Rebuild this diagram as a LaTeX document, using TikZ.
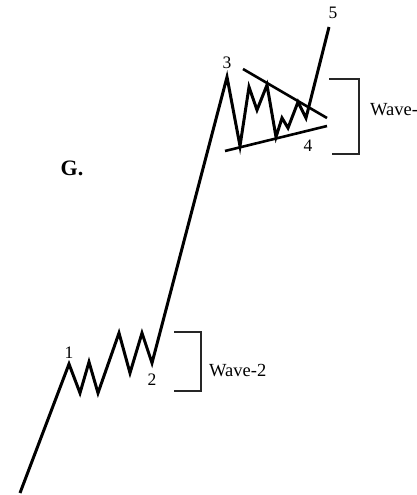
\documentclass[tikz,border=0pt]{standalone}
\usepackage{fontspec}
\setmainfont{Liberation Serif}
\usetikzlibrary{positioning}

\begin{document}
\begin{tikzpicture}[
  x=1pt, y=-1pt,
  every node/.style={inner sep=0pt},
  wave/.style={line width=3pt, line join=miter, miter limit=20},
  trend/.style={line width=2.6pt},
  brk/.style={line width=1.5pt, black!85},
  lbl/.style={font=\fontsize{17.5}{17.5}\selectfont},
  wlbl/.style={font=\fontsize{18.5}{18.5}\selectfont, anchor=west},
]
\useasboundingbox (0,0) rectangle (417,495);

% wave points
\foreach \n/\px/\py in {s/20/493, p1/69/364, a1/80/393, a2/89/362, a3/98/393,
    a4/119/333, a5/130/373, a6/142/333, p2/152/363, p3/227/77,
    b1/240/146, b2/249/87, b3/257/110, b4/267/85, b5/276/137,
    b6/282/118, b7/288/128, b8/298/102, b9/306/118, p5/329/27}
  \coordinate (\n) at (\px,\py);

\draw[wave] (s) -- (p1) -- (a1) -- (a2) -- (a3) -- (a4) -- (a5) -- (a6)
  -- (p2) -- (p3) -- (b1) -- (b2) -- (b3) -- (b4) -- (b5) -- (b6) -- (b7)
  -- (b8) -- (b9) -- (p5);

% triangle
\coordinate (tu1) at (243,69);  \coordinate (tu2) at (327,118);
\coordinate (tl1) at (225,151); \coordinate (tl2) at (327,126);
\draw[trend] (tu1) -- (tu2);
\draw[trend] (tl1) -- (tl2);

% labels
\node[lbl, above=5pt of p1] (l1) {1};
\node[lbl, below=11pt of p2] (l2) {2};
\node[lbl, above=8pt of p3] (l3) {3};
\node[lbl] (l4) at (308,146) {4};
\node[lbl] (l5) at (333,13) {5};
\node[font=\fontsize{22}{22}\selectfont\bfseries] (g) at (72,168) {G.};

% brackets
\coordinate (k2a) at (174,332); \coordinate (k2b) at (201,332);
\coordinate (k2c) at (201,391); \coordinate (k2d) at (174,391);
\draw[brk] (k2a) -- (k2b) -- (k2c) -- (k2d);
\node[wlbl] (w2) at (209,371) {Wave-2};

\coordinate (k4a) at (329,79);  \coordinate (k4b) at (359,79);
\coordinate (k4c) at (359,154); \coordinate (k4d) at (332,154);
\draw[brk] (k4a) -- (k4b) -- (k4c) -- (k4d);
\node[wlbl] (w4) at (370,110) {Wave-};
\end{tikzpicture}
\end{document}
